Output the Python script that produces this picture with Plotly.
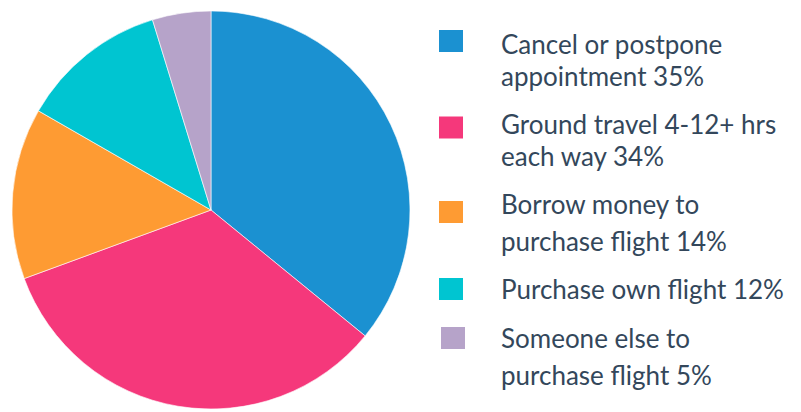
import plotly.graph_objects as go

labels = ["Cancel or postpone appointment", "Ground travel 4-12+ hrs each way",
          "Borrow money to purchase flight", "Purchase own flight", "Someone else to purchase flight"]
# slice sizes as measured from the slice angles in the picture
values = [35.9, 33.5, 13.9, 11.95, 4.75]
legend_lines = [
    ["Cancel or postpone", "appointment 35%"],
    ["Ground travel 4-12+ hrs", "each way 34%"],
    ["Borrow money to", "purchase flight 14%"],
    ["Purchase own flight 12%"],
    ["Someone else to", "purchase flight 5%"],
]
colors = ["#1b91d1", "#f5387b", "#fe9b33", "#00c5d1", "#b6a3c9"]

OFF = 8  # page body margin
W, H = 801 - OFF, 412 - OFF
# legend layout (page pixel positions)
sq_centers = [41, 127.5, 212, 289, 338]
sq_x = [439, 439, 439, 439, 441]
line_centers = [[42.5, 74], [122, 154], [202, 239.5], [286.5], [336, 373]]


def px(x):
    return (x - OFF) / W


def py(y):
    return (H - (y - OFF)) / H


fig = go.Figure(go.Pie(
    labels=labels, values=values, sort=False, direction="clockwise", rotation=0,
    marker=dict(colors=colors, line=dict(color="white", width=0.6)),
    textinfo="none", hoverinfo="label", showlegend=False,
    domain=dict(x=[px(12), px(410)], y=[max(0, py(410)), py(10)]),
))

shapes = []
annotations = []
for i, lines in enumerate(legend_lines):
    cy = sq_centers[i]
    x0 = sq_x[i]
    shapes.append(dict(type="rect", xref="paper", yref="paper",
                       x0=px(x0), x1=px(x0 + 24),
                       y0=py(cy + 11), y1=py(cy - 11),
                       fillcolor=colors[i], line=dict(width=0)))
    for j, t in enumerate(lines):
        ly = line_centers[i][j]
        annotations.append(dict(text=t, xref="paper", yref="paper",
                                x=px(499), y=py(ly + 2), xanchor="left", yanchor="middle",
                                showarrow=False,
                                font=dict(family="Lato", size=26, color="#33475b")))

fig.update_layout(width=W, height=H, margin=dict(l=0, r=0, t=0, b=0),
                  paper_bgcolor="white", plot_bgcolor="white",
                  shapes=shapes, annotations=annotations)
fig.write_html("out.html")
